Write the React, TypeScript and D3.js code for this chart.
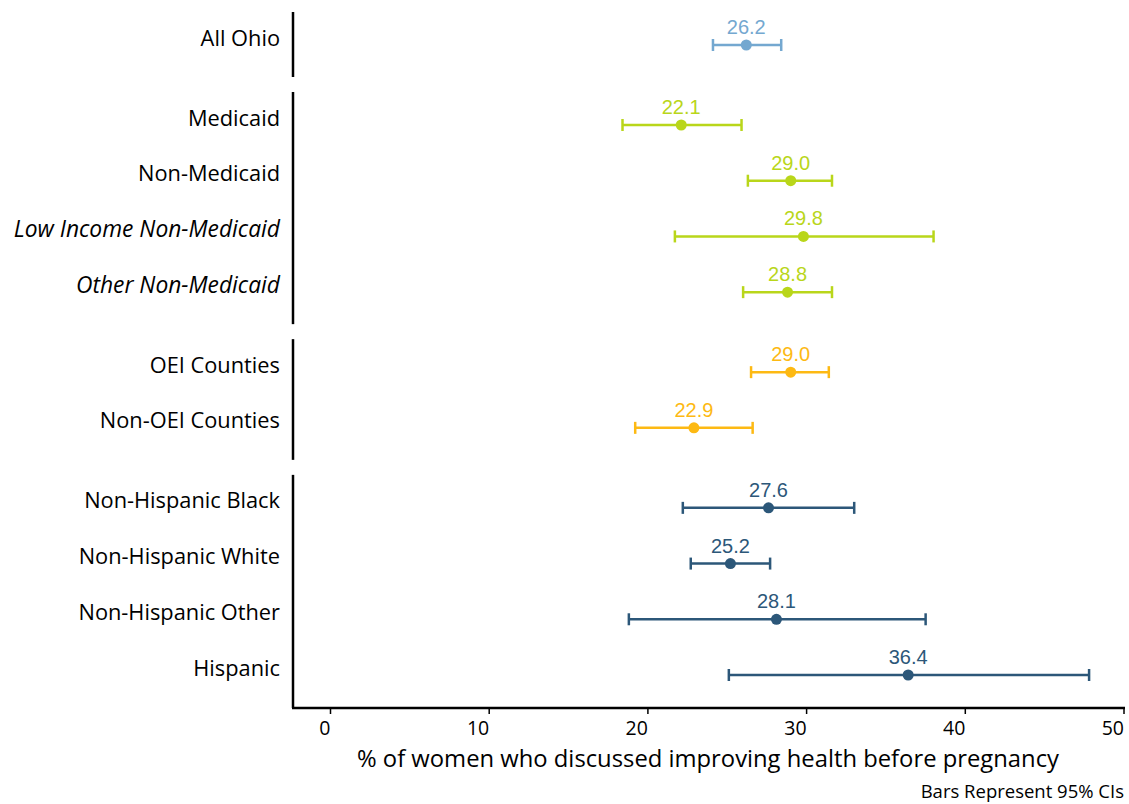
import React from "react";
import * as d3 from "d3";

// Subgroups, point estimates and 95% confidence limits
const categories = [
  "All Ohio",
  "Medicaid",
  "Non-Medicaid",
  "Low Income Non-Medicaid",
  "Other Non-Medicaid",
  "OEI Counties",
  "Non-OEI Counties",
  "Non-Hispanic Black",
  "Non-Hispanic White",
  "Non-Hispanic Other",
  "Hispanic",
];
const groupOf = [0, 1, 1, 1, 1, 2, 2, 3, 3, 3, 3];
const italicRows = [false, false, false, true, true, false, false, false, false, false, false];
const estimates = [26.2, 22.1, 29.0, 29.8, 28.8, 29.0, 22.9, 27.6, 25.2, 28.1, 36.4];
const lowerCI = [24.1, 18.4, 26.3, 21.7, 26.0, 26.5, 19.2, 22.2, 22.7, 18.8, 25.1];
const upperCI = [28.4, 25.9, 31.6, 38.0, 31.6, 31.4, 26.6, 33.0, 27.7, 37.5, 47.8];
const groupColors = ["#74a8d0", "#b9d61a", "#fdb913", "#2c5779"];
const xTicks = [0, 10, 20, 30, 40, 50];
const xTitle = "% of women who discussed improving health before pregnancy";
const footnote = "Bars Represent 95% CIs";

const W = 1129;
const H = 804;
const GROUP_GAP = 0.436; // extra spacing between groups, in rows

export default function App() {
  const x = d3.scaleLinear().domain([-2.3, 50]).range([294, 1124]);
  const pos = categories.map((_, i) => i + groupOf[i] * GROUP_GAP);
  const y = d3
    .scaleLinear()
    .domain([0, d3.max(pos) as number])
    .range([45, 675]);
  const axisY = 708;
  const labelX = 280;
  const capH = 6;

  const groupIds = Array.from(new Set(groupOf));
  const brackets = groupIds.map((g) => {
    const rows = pos.filter((_, i) => groupOf[i] === g);
    const top = y(d3.min(rows) as number) - 33;
    const isLast = g === groupIds[groupIds.length - 1];
    const bottom = isLast ? axisY : y(d3.max(rows) as number) + 32;
    return { g, top, bottom };
  });

  const labelFont = "'Open Sans', 'DejaVu Sans', sans-serif";
  const valueFont = "'Liberation Sans', Arial, sans-serif";

  return (
    <svg
      width={W}
      height={H}
      style={{ position: "absolute", left: 0, top: 0, background: "#fff" }}
    >
      {/* group brackets on the left edge */}
      {brackets.map((b) => (
        <line
          key={b.g}
          x1={293}
          x2={293}
          y1={b.top}
          y2={b.bottom}
          stroke="#000"
          strokeWidth={2.5}
        />
      ))}

      {/* x axis */}
      <line x1={292} x2={x(50) + 1} y1={axisY} y2={axisY} stroke="#000" strokeWidth={2.5} />
      {xTicks.map((t) => (
        <g key={t}>
          <line x1={x(t)} x2={x(t)} y1={axisY} y2={axisY + 6} stroke="#000" strokeWidth={1.5} />
          <text
            x={x(t)}
            y={735}
            textAnchor="end"
            fontFamily={labelFont}
            fontSize={19.5}
            fill="#000"
          >
            {t}
          </text>
        </g>
      ))}
      <text
        x={708}
        y={767}
        textAnchor="middle"
        fontFamily={labelFont}
        fontSize={23.8}
        fill="#000"
      >
        {xTitle}
      </text>
      <text
        x={1124}
        y={798}
        textAnchor="end"
        fontFamily={labelFont}
        fontSize={18.5}
        fill="#000"
      >
        {footnote}
      </text>

      {/* rows */}
      {categories.map((c, i) => {
        const cy = y(pos[i]);
        const col = groupColors[groupOf[i]];
        return (
          <g key={c}>
            <text
              x={labelX}
              y={cy - 7}
              dy="0.35em"
              textAnchor="end"
              fontFamily={labelFont}
              fontSize={italicRows[i] ? 22.8 : 21.8}
              fontStyle={italicRows[i] ? "italic" : "normal"}
              fill="#000"
            >
              {c}
            </text>
            <line x1={x(lowerCI[i])} x2={x(upperCI[i])} y1={cy} y2={cy} stroke={col} strokeWidth={2.5} />
            <line x1={x(lowerCI[i])} x2={x(lowerCI[i])} y1={cy - capH} y2={cy + capH} stroke={col} strokeWidth={2.5} />
            <line x1={x(upperCI[i])} x2={x(upperCI[i])} y1={cy - capH} y2={cy + capH} stroke={col} strokeWidth={2.5} />
            <circle cx={x(estimates[i])} cy={cy} r={5.5} fill={col} />
            <text
              x={x(estimates[i])}
              y={cy - 11}
              textAnchor="middle"
              fontFamily={valueFont}
              fontSize={20}
              fill={col}
            >
              {estimates[i].toFixed(1)}
            </text>
          </g>
        );
      })}
    </svg>
  );
}
